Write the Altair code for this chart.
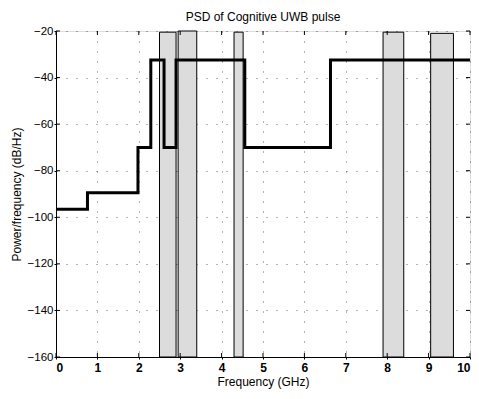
import altair as alt
import pandas as pd

# Step PSD mask (step-after)
freq = [0, 0.76, 1.98, 2.29, 2.61, 2.9, 4.56, 6.63, 10]
psd = [-96.5, -89.5, -70, -32.5, -70, -32.5, -70, -32.5, -32.5]

# Shaded (occupied) bands
band_start = [2.5, 2.95, 4.3, 7.9, 9.05]
band_end = [2.9, 3.4, 4.52, 8.4, 9.6]
band_top = [-20.5, -20, -20.5, -20.5, -21]
band_bottom = [-160, -160, -160, -160, -160]

x_ticks = list(range(0, 11))
y_ticks = [-160, -140, -120, -100, -80, -60, -40, -20]

line_df = pd.DataFrame({"f": freq, "p": psd})
band_df = pd.DataFrame({"x1": band_start, "x2": band_end, "y1": band_bottom, "y2": band_top})
xt_df = pd.DataFrame({"t": x_ticks})
yt_df = pd.DataFrame({"t": y_ticks})

FONT = "Liberation Sans"
W, H = 414, 326

xs = alt.Scale(domain=[0, 10], nice=False, zero=False)
ys = alt.Scale(domain=[-160, -20], nice=False, zero=False)

xaxis = alt.Axis(values=x_ticks, title="Frequency (GHz)", grid=True,
                 gridDash=[1, 9], gridColor="#444", gridOpacity=0.8,
                 tickSize=2, tickColor="black", domainColor="black",
                 labelFont=FONT, labelFontSize=12, labelFontWeight="bold",
                 labelColor="black", labelPadding=3,
                 titleFont=FONT, titleFontSize=12, titleFontWeight="normal",
                 titleColor="black", titlePadding=3)
yaxis = alt.Axis(values=y_ticks, title="Power/frequency (dB/Hz)", grid=True,
                 gridDash=[1, 9], gridColor="#444", gridOpacity=0.8,
                 tickSize=2, tickColor="black", domainColor="black",
                 labelFont=FONT, labelFontSize=11.5, labelColor="black", labelPadding=1,
                 titleFont=FONT, titleFontSize=12, titleFontWeight="normal",
                 titleColor="black", titlePadding=4)

bands = alt.Chart(band_df).mark_rect(fill="#dcdcdc", stroke="black", strokeWidth=1).encode(
    x=alt.X("x1:Q", scale=xs, axis=xaxis),
    x2="x2:Q",
    y=alt.Y("y1:Q", scale=ys, axis=yaxis),
    y2="y2:Q",
)

line = alt.Chart(line_df).mark_line(color="black", strokeWidth=3, interpolate="step-after").encode(
    x=alt.X("f:Q", scale=xs),
    y=alt.Y("p:Q", scale=ys),
)

# inward tick marks on all four sides (MATLAB box style)
tick_len = 4
xt_bottom = alt.Chart(xt_df).mark_rule(color="black", strokeWidth=1).encode(
    x=alt.X("t:Q", scale=xs), y=alt.value(H), y2=alt.value(H - tick_len))
xt_top = alt.Chart(xt_df).mark_rule(color="black", strokeWidth=1).encode(
    x=alt.X("t:Q", scale=xs), y=alt.value(0), y2=alt.value(tick_len))
yt_left = alt.Chart(yt_df).mark_rule(color="black", strokeWidth=1).encode(
    y=alt.Y("t:Q", scale=ys), x=alt.value(0), x2=alt.value(tick_len))
yt_right = alt.Chart(yt_df).mark_rule(color="black", strokeWidth=1).encode(
    y=alt.Y("t:Q", scale=ys), x=alt.value(W), x2=alt.value(W - tick_len))

chart = alt.layer(bands, line, xt_bottom, xt_top, yt_left, yt_right).properties(
    width=W, height=H,
    title=alt.TitleParams("PSD of Cognitive UWB pulse", font=FONT, fontSize=12,
                          fontWeight="normal", color="black", offset=1),
    autosize=alt.AutoSizeParams(type="none"),
    padding={"left": 48, "top": 23, "right": 1, "bottom": 34},
).configure_view(stroke="black", strokeWidth=1).configure(background="white")

chart.save("out.html", embed_options={"renderer": "svg", "actions": False})
